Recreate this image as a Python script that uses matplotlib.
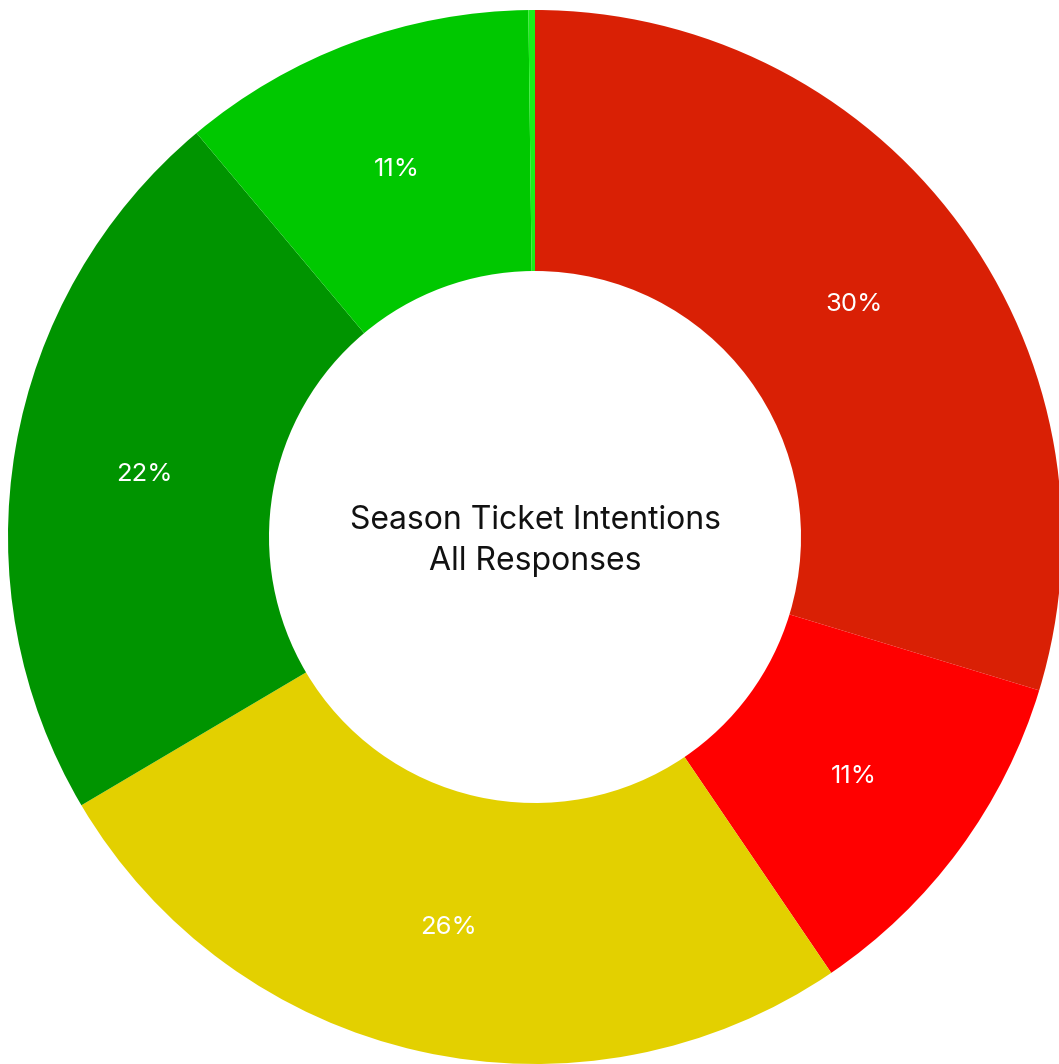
import matplotlib
matplotlib.use("Agg")
import matplotlib.pyplot as plt

plt.rcParams['font.family'] = ['Inter', 'DejaVu Sans']

# Share of responses (percent), clockwise from 12 o'clock
categories = ["Definitely renewing", "Probably renewing", "Undecided",
              "Probably not renewing", "Definitely not renewing", "Other"]
shares = [29.7, 10.8, 26.0, 22.4, 10.9, 0.2]
colors = ["#d92005", "#ff0000", "#e3d000", "#009400", "#00c800", "#19f019"]

W, H = 1059, 1064
fig = plt.figure(figsize=(W / 100, H / 100), dpi=100)
ax = fig.add_axes([0, 0, 1, 1])

cx, cy = 535, H - 537
outer = 527
inner = 266


def fmt(p):
    return f"{p:.0f}%" if p >= 1 else ""


wedges, texts, autotexts = ax.pie(
    shares,
    colors=colors,
    startangle=90,
    counterclock=False,
    center=(cx, cy),
    radius=outer,
    autopct=fmt,
    pctdistance=(outer + inner) / 2 / outer,
    wedgeprops=dict(width=outer - inner, linewidth=0),
    textprops=dict(color="white", fontsize=18.5),
    frame=True,
)
# nudge the percentage labels slightly below the ring midline
for t in autotexts:
    x, y = t.get_position()
    t.set_position((x, y - 4))

ax.set_xlim(0, W)
ax.set_ylim(0, H)
ax.set_aspect("equal")
ax.axis("off")

ax.text(cx, cy - 4, "Season Ticket Intentions\nAll Responses",
        ha="center", va="center", fontsize=23, color="#111111",
        linespacing=1.42)

fig.savefig("out.png", dpi=100)
